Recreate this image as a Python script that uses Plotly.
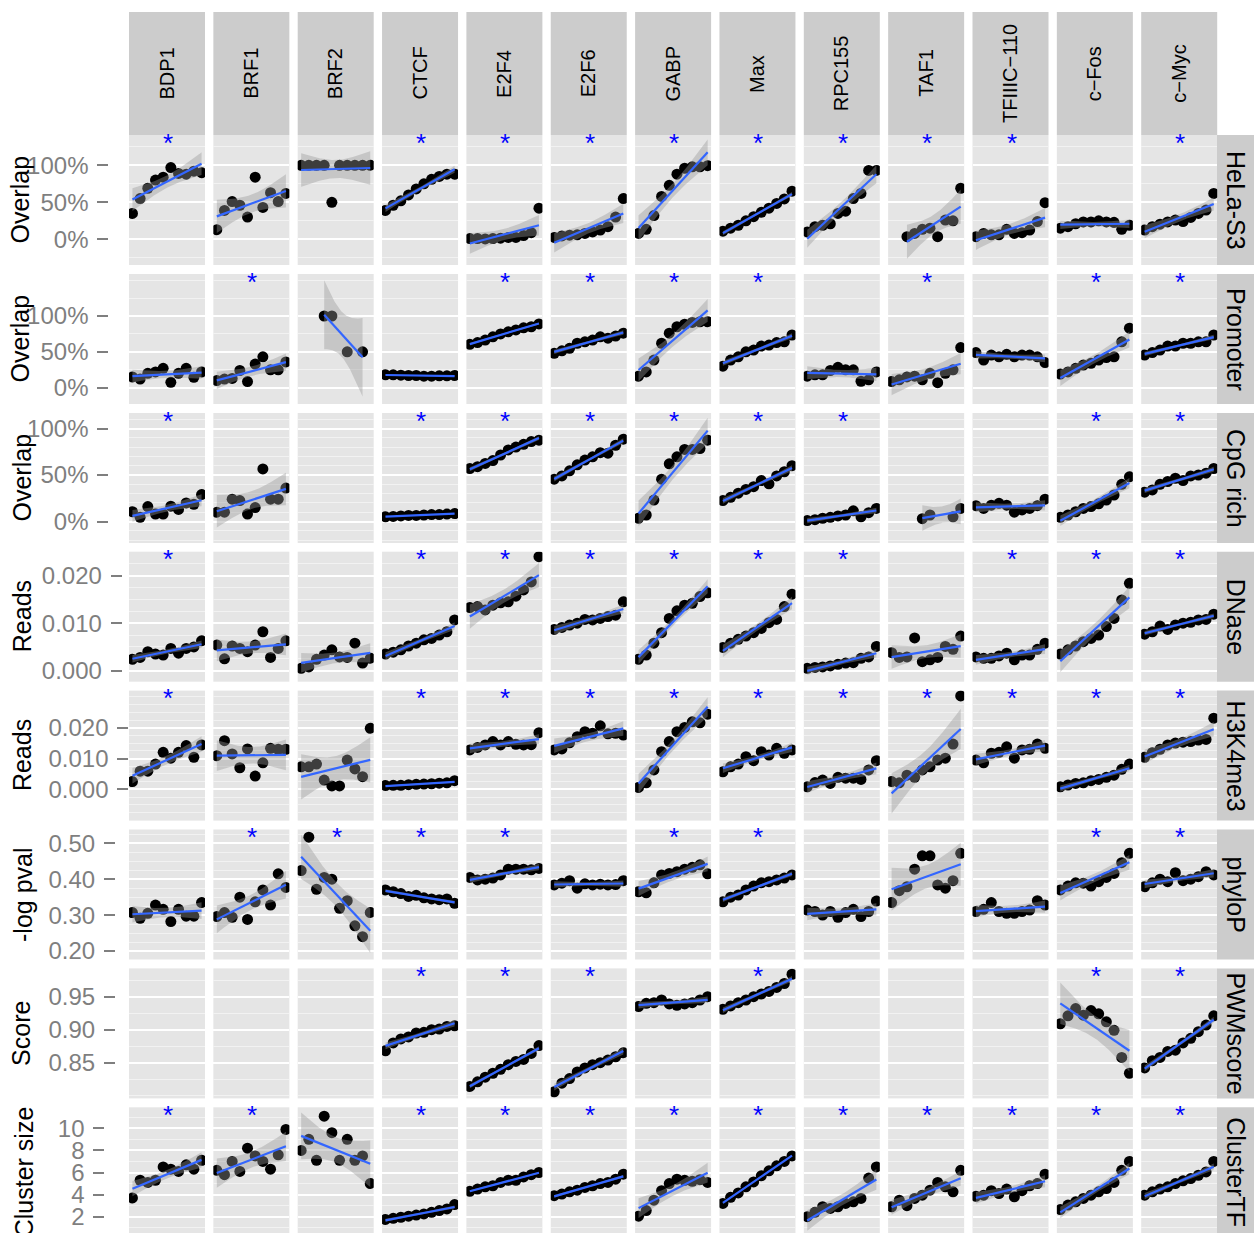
import numpy as np
import plotly.graph_objects as go

W, H = 1254, 1233
FONT = "Liberation Sans, Arial, Helvetica, sans-serif"

# ---------------- data ----------------
tf_names = ["BDP1", "BRF1", "BRF2", "CTCF", "E2F4", "E2F6", "GABP", "Max",
            "RPC155", "TAF1", "TFIIIC\u2212110", "c\u2212Fos", "c\u2212Myc"]
row_names = ["HeLa-S3", "Promoter", "CpG rich", "DNase", "H3K4me3", "phyloP", "PWMscore", "ClusterTF"]
y_titles = ["Overlap", "Overlap", "Overlap", "Reads", "Reads", "-log pval", "Score", "Cluster size"]
N = None
E = [N] * 10

hela_s3 = [
    [35, 55, 69, 80, 84, 97, 89, 88, 92, 90],
    [13, 39, 51, 46, 30, 84, 43, 63, 51, 62],
    [100, 100, 100, 100, 50, 100, 100, 100, 100, 100],
    [39, 46, 52, 60, 68, 75, 81, 85, 88, 88],
    [1, 1, 0.5, 1, 1.5, 2.5, 2.5, 5, 9, 42],
    [2.5, 4.5, 5.5, 6, 8, 10, 12.5, 17, 30, 55],
    [8, 13.5, 32, 58, 73, 88, 96, 98, 98, 99.5],
    [11, 15, 19, 25, 30.5, 36.5, 42, 48.5, 54.5, 65],
    [10, 17, 19, 21, 35, 38, 55, 62, 93, 93],
    [N, N, 3.5, 8, 13.5, 15, 3.5, 26, 25, 69],
    [3.5, 8, 6, 6, 13.5, 8, 9, 12.5, 24, 49.5],
    [15, 17, 21, 23.5, 23.5, 25, 23.5, 23, 13.5, 19],
    [12.5, 17, 20.5, 23.5, 26, 24, 29.5, 35, 39.5, 62],
]
promoter = [
    [15, 12, 20, 22, 27, 7.5, 20, 27, 14.5, 22],
    [10, 12, 13, 24, 8.5, 33, 43, 25, 25, 36],
    [N, N, N, 100, 100, N, 50, N, 50, N],
    [18, 18, 17.5, 17, 17, 16, 16, 16.5, 16.5, 17],
    [60.5, 63, 66.5, 71, 75, 78, 80.5, 83.5, 85, 89],
    [48, 51.5, 55, 62, 64, 66.5, 71, 69, 72, 76],
    [16, 22, 38.5, 62, 76, 85, 88.5, 91, 92, 92],
    [30, 38.5, 43, 50, 52.5, 58, 59.5, 63, 64, 73.5],
    [16, 18, 18, 24, 28.5, 25, 25, 9, 11, 22],
    [8.5, 11, 15, 16, 11, 20, 7, 20, 25, 56],
    [49, 38.5, 45.5, 43, 46.5, 43, 45.5, 45.5, 43, 35],
    [19, 22, 27, 31.5, 34, 38.5, 42, 43, 64, 83],
    [45.5, 49, 52.5, 58, 58, 62, 62, 64, 64, 73.5],
]
cpg_rich = [
    [10.5, 4.5, 16, 8, 8, 16.5, 13, 20, 18.5, 29],
    [10, 10, 24, 22.5, 8, 15, 56.5, 24, 24, 36],
    E,
    [5, 5.5, 6, 6.5, 6.5, 7, 7.5, 7.5, 8, 8.5],
    [57, 59, 62.5, 65.5, 71.5, 77, 80, 83, 86, 87.5],
    [45.5, 49, 54.5, 61, 66, 69.5, 74, 73.5, 82, 88.5],
    [3.5, 7, 23, 45.5, 62, 69.5, 77.5, 77.5, 78.5, 87.5],
    [22.5, 26, 30.5, 34.5, 37.5, 44, 40.5, 49, 53.5, 60],
    [1, 2, 3.5, 4.5, 6, 7, 11.5, 5, 9.5, 14],
    [N, N, N, N, 3, 7, N, N, 5, 14],
    [17, 14, 17.5, 19.5, 17.5, 10, 12.5, 14, 17, 24],
    [4.5, 7, 10.5, 14, 16, 19, 23, 28.5, 40, 48],
    [31.5, 34, 40, 43, 46.5, 44, 49, 50, 52, 57],
]
dnase = [
    [0.0024, 0.0028, 0.0040, 0.0035, 0.0033, 0.0047, 0.0037, 0.0047, 0.0050, 0.0063],
    [0.0054, 0.0025, 0.0052, 0.0047, 0.0040, 0.0054, 0.0082, 0.0028, 0.0047, 0.0063],
    [0.0005, 0.0008, 0.0024, 0.0033, 0.0044, 0.0029, 0.0028, 0.0058, 0.0016, 0.0026],
    [0.0035, 0.0039, 0.0044, 0.0052, 0.0058, 0.0065, 0.0068, 0.0075, 0.0082, 0.0107],
    [0.0133, 0.0135, 0.0128, 0.0138, 0.0143, 0.0145, 0.0157, 0.0170, 0.0187, 0.0240],
    [0.0087, 0.0091, 0.0096, 0.0100, 0.0108, 0.0107, 0.0110, 0.0114, 0.0117, 0.0145],
    [0.0024, 0.0033, 0.0058, 0.0080, 0.0110, 0.0126, 0.0138, 0.0142, 0.0156, 0.0164],
    [0.0049, 0.0058, 0.0066, 0.0073, 0.0080, 0.0089, 0.0101, 0.0108, 0.0135, 0.0161],
    [0.0005, 0.0007, 0.0008, 0.0010, 0.00135, 0.0016, 0.0017, 0.0026, 0.0029, 0.0051],
    [0.0038, 0.0028, 0.0029, 0.0069, 0.0019, 0.0023, 0.0028, 0.0051, 0.0045, 0.0073],
    [0.0029, 0.0026, 0.0026, 0.0031, 0.0037, 0.0023, 0.0033, 0.0033, 0.0045, 0.0058],
    [0.0035, 0.0044, 0.0052, 0.0061, 0.0068, 0.0075, 0.0093, 0.0110, 0.0149, 0.0184],
    [0.0077, 0.0082, 0.0094, 0.0087, 0.0096, 0.0100, 0.0102, 0.0107, 0.0108, 0.0119],
]
h3k4me3 = [
    [0.0025, 0.0059, 0.0059, 0.0082, 0.0120, 0.0101, 0.0120, 0.0142, 0.0104, 0.0144],
    [0.0109, 0.0158, 0.0115, 0.0070, 0.0131, 0.0043, 0.0086, 0.0133, 0.0130, 0.0130],
    [0.0073, 0.0073, 0.0082, 0.0030, 0.0011, 0.0011, 0.0095, 0.0066, 0.0041, 0.0198],
    [0.0012, 0.0013, 0.0013, 0.0015, 0.0016, 0.0017, 0.0018, 0.0020, 0.0021, 0.0028],
    [0.0128, 0.0136, 0.0144, 0.0155, 0.0144, 0.0155, 0.0146, 0.0144, 0.0145, 0.0184],
    [0.0128, 0.0131, 0.0151, 0.0171, 0.0187, 0.0182, 0.0206, 0.0180, 0.0182, 0.0176],
    [0.0006, 0.0021, 0.0063, 0.0122, 0.0155, 0.0187, 0.0201, 0.0219, 0.0216, 0.0244],
    [0.0057, 0.0073, 0.0082, 0.0106, 0.0093, 0.0122, 0.0111, 0.0133, 0.0117, 0.0128],
    [0.0008, 0.0022, 0.0030, 0.0019, 0.0039, 0.0036, 0.0036, 0.0032, 0.0063, 0.0093],
    [0.0025, 0.0021, 0.0046, 0.0039, 0.0063, 0.0073, 0.0095, 0.0101, 0.0147, 0.0303],
    [0.0095, 0.0086, 0.0117, 0.0120, 0.0138, 0.0101, 0.0128, 0.0130, 0.0147, 0.0133],
    [0.0008, 0.0014, 0.0019, 0.0021, 0.0028, 0.0032, 0.0039, 0.0046, 0.0065, 0.0082],
    [0.0104, 0.0119, 0.0130, 0.0144, 0.0150, 0.0153, 0.0155, 0.0160, 0.0162, 0.0231],
]
phylop = [
    [0.307, 0.291, 0.305, 0.328, 0.316, 0.282, 0.316, 0.297, 0.297, 0.335],
    [0.296, 0.307, 0.294, 0.350, 0.288, 0.337, 0.370, 0.328, 0.415, 0.377],
    [0.424, 0.517, 0.372, 0.405, 0.400, 0.319, 0.340, 0.270, 0.240, 0.307],
    [0.370, 0.365, 0.360, 0.352, 0.355, 0.348, 0.345, 0.343, 0.345, 0.333],
    [0.405, 0.398, 0.400, 0.403, 0.412, 0.428, 0.428, 0.428, 0.426, 0.430],
    [0.384, 0.389, 0.396, 0.375, 0.387, 0.384, 0.386, 0.384, 0.385, 0.396],
    [0.365, 0.362, 0.390, 0.412, 0.416, 0.421, 0.428, 0.433, 0.440, 0.415],
    [0.337, 0.350, 0.356, 0.370, 0.381, 0.390, 0.393, 0.398, 0.403, 0.412],
    [0.314, 0.310, 0.300, 0.310, 0.294, 0.307, 0.316, 0.296, 0.310, 0.339],
    [0.335, 0.368, 0.379, 0.428, 0.465, 0.465, 0.384, 0.375, 0.396, 0.472],
    [0.310, 0.316, 0.335, 0.310, 0.305, 0.305, 0.310, 0.314, 0.340, 0.328],
    [0.370, 0.381, 0.390, 0.389, 0.381, 0.393, 0.405, 0.416, 0.446, 0.472],
    [0.379, 0.390, 0.400, 0.393, 0.418, 0.396, 0.400, 0.407, 0.421, 0.412],
]
pwm_score = [
    E, E, E,
    [0.868, 0.880, 0.886, 0.889, 0.895, 0.896, 0.900, 0.901, 0.905, 0.906],
    [0.814, 0.821, 0.828, 0.834, 0.840, 0.847, 0.852, 0.855, 0.864, 0.876],
    [0.806, 0.819, 0.826, 0.836, 0.842, 0.847, 0.850, 0.854, 0.859, 0.865],
    [0.935, 0.940, 0.941, 0.945, 0.939, 0.937, 0.939, 0.941, 0.945, 0.950],
    [0.931, 0.936, 0.941, 0.945, 0.950, 0.954, 0.958, 0.964, 0.970, 0.984],
    E, E, E,
    [0.909, 0.921, 0.932, 0.922, 0.929, 0.924, 0.912, 0.899, 0.858, 0.834],
    [0.842, 0.853, 0.858, 0.867, 0.869, 0.880, 0.887, 0.897, 0.907, 0.921],
]
cluster_tf = [
    [3.7, 5.3, 5.1, 5.3, 6.5, 6.3, 6.1, 6.7, 6.3, 7.1],
    [6.2, 5.8, 7.0, 6.1, 8.2, 7.5, 7.0, 6.3, 7.6, 9.9],
    [8.0, 9.0, 7.1, 11.1, 9.6, 7.1, 9.0, 7.1, 7.5, 5.0],
    [1.75, 1.85, 1.95, 2.05, 2.15, 2.25, 2.4, 2.55, 2.7, 3.1],
    [4.3, 4.5, 4.7, 4.8, 5.1, 5.3, 5.3, 5.6, 5.8, 6.0],
    [3.9, 4.05, 4.25, 4.4, 4.65, 4.8, 5.0, 5.1, 5.4, 5.85],
    [2.05, 2.55, 3.5, 4.35, 5.0, 5.4, 5.3, 5.2, 5.35, 5.1],
    [3.2, 3.75, 4.15, 4.7, 5.15, 5.7, 6.15, 6.6, 7.0, 7.5],
    [2.0, 2.4, 2.9, 2.75, 2.9, 3.2, 3.35, 3.65, 5.5, 6.5],
    [2.9, 3.5, 3.0, 3.65, 3.95, 4.4, 5.1, 4.7, 4.25, 6.2],
    [3.85, 3.95, 4.35, 4.1, 4.5, 3.8, 4.35, 4.8, 5.0, 5.85],
    [2.65, 3.05, 3.35, 3.65, 3.95, 4.25, 4.55, 5.1, 6.2, 7.0],
    [3.95, 4.25, 4.5, 4.7, 5.0, 5.25, 5.45, 5.75, 6.05, 7.0],
]
all_rows = [hela_s3, promoter, cpg_rich, dnase, h3k4me3, phylop, pwm_score, cluster_tf]

# significance stars (1 = "*")
sig_hela_s3 = [1, 0, 0, 1, 1, 1, 1, 1, 1, 1, 1, 0, 1]
sig_promoter = [0, 1, 0, 0, 1, 1, 1, 1, 0, 1, 0, 1, 1]
sig_cpg_rich = [1, 0, 0, 1, 1, 1, 1, 1, 1, 0, 0, 1, 1]
sig_dnase = [1, 0, 0, 1, 1, 1, 1, 1, 1, 0, 1, 1, 1]
sig_h3k4me3 = [1, 0, 0, 1, 1, 1, 1, 1, 1, 1, 1, 1, 1]
sig_phylop = [0, 1, 1, 1, 1, 0, 1, 1, 0, 0, 0, 1, 1]
sig_pwm_score = [0, 0, 0, 1, 1, 1, 0, 1, 0, 0, 0, 1, 1]
sig_cluster_tf = [1, 1, 0, 1, 1, 1, 1, 1, 1, 1, 1, 1, 1]
all_sig = [sig_hela_s3, sig_promoter, sig_cpg_rich, sig_dnase, sig_h3k4me3,
           sig_phylop, sig_pwm_score, sig_cluster_tf]

x_index = list(range(1, 11))

tick_vals = [[0, 50, 100], [0, 50, 100], [0, 50, 100],
             [0, 0.01, 0.02], [0, 0.01, 0.02],
             [0.2, 0.3, 0.4, 0.5], [0.85, 0.90, 0.95], [2, 4, 6, 8, 10]]
tick_text = [["0%", "50%", "100%"], ["0%", "50%", "100%"], ["0%", "50%", "100%"],
             ["0.000", "0.010", "0.020"], ["0.000", "0.010", "0.020"],
             ["0.20", "0.30", "0.40", "0.50"], ["0.85", "0.90", "0.95"],
             ["2", "4", "6", "8", "10"]]

# ---------------- layout geometry / axis calibration ----------------
col_left = [129 + i * 84.35 for i in range(13)]
panel_w = 76
row_top = [135, 274, 413, 551.7, 690.6, 829.5, 968.4, 1107.3]
panel_h = 130
# two (value, pixel) reference ticks per row
calib = [((0, 239.3), (100, 165.3)), ((0, 387.7), (100, 316.0)), ((0, 521.5), (100, 428.5)),
         ((0, 670.7), (0.02, 575.7)), ((0, 789.3), (0.02, 727.7)),
         ((0.2, 951.0), (0.5, 843.3)), ((0.85, 1062.7), (0.95, 996.7)),
         ((2, 1216.7), (10, 1128.3))]
minor_step = [25, 25, 10, 0.0025, 0.0025, 0.025, 0.025, 1]
axis_pos = [108.3, 108.3, 108.3, 121.7, 128.3, 115.0, 115.0, 104.3]
title_x = [19.5, 19.5, 21.5, 21.5, 21.5, 22.5, 21.5, 24.0]

T975 = {1: 12.706, 2: 4.303, 3: 3.182, 4: 2.776, 5: 2.571, 6: 2.447, 7: 2.365, 8: 2.306}


def lm_band(xs, ys):
    xs = np.asarray(xs, float)
    ys = np.asarray(ys, float)
    n = len(xs)
    xb, yb = xs.mean(), ys.mean()
    sxx = ((xs - xb) ** 2).sum()
    b = ((xs - xb) * (ys - yb)).sum() / sxx
    a = yb - b * xb
    res = ys - (a + b * xs)
    s = np.sqrt((res ** 2).sum() / (n - 2))
    xg = np.linspace(xs.min(), xs.max(), 80)
    yg = a + b * xg
    se = s * np.sqrt(1.0 / n + (xg - xb) ** 2 / sxx)
    t = T975[n - 2]
    return xg, yg, yg - t * se, yg + t * se


def row_range(r):
    (v0, p0), (v1, p1) = calib[r]
    per_px = (v1 - v0) / (p0 - p1)
    top = row_top[r]
    bot = min(top + panel_h, H)
    return v0 + (p0 - bot) * per_px, v0 + (p0 - top) * per_px


fig = go.Figure()
layout = {}
annotations = []
shapes = []

for r in range(8):
    lo, hi = row_range(r)
    step = minor_step[r]
    mins = []
    k0 = int(np.ceil(lo / step))
    k1 = int(np.floor(hi / step))
    for k in range(k0, k1 + 1):
        v = round(k * step, 10)
        if all(abs(v - m) > step * 1e-3 for m in tick_vals[r]):
            mins.append(v)
    y0p = row_top[r]
    y1p = min(y0p + panel_h, H)
    for c in range(13):
        idx = r * 13 + c + 1
        xn = "x" if idx == 1 else f"x{idx}"
        yn = "y" if idx == 1 else f"y{idx}"
        xk = "xaxis" if idx == 1 else f"xaxis{idx}"
        yk = "yaxis" if idx == 1 else f"yaxis{idx}"
        x0p = col_left[c]
        x1p = x0p + panel_w
        layout[xk] = dict(domain=[x0p / W, x1p / W], range=[0.55, 10.45], anchor=yn,
                          showgrid=False, zeroline=False, showticklabels=False,
                          ticks="", showline=False, fixedrange=True, automargin=False)
        yd = dict(domain=[(H - y1p) / H, (H - y0p) / H], range=[lo, hi],
                  showgrid=True, gridcolor="white", gridwidth=2, zeroline=False,
                  showline=False, tickmode="array", tickvals=tick_vals[r],
                  ticktext=tick_text[r], automargin=False, fixedrange=True,
                  minor=dict(tickmode="array", tickvals=mins, showgrid=True,
                             gridcolor="#F2F2F2", gridwidth=1, ticks=""))
        if c == 0:
            yd.update(anchor="free", position=axis_pos[r] / W, ticks="outside",
                      ticklen=11, tickwidth=2, tickcolor="#7F7F7F", showticklabels=True,
                      tickfont=dict(size=24, color="#7F7F7F", family=FONT),
                      ticklabelstandoff=4)
        else:
            yd.update(anchor=xn, showticklabels=False, ticks="")
        layout[yk] = yd

        vals = all_rows[r][c]
        xs = [x for x, v in zip(x_index, vals) if v is not None]
        ys = [v for v in vals if v is not None]
        if xs:
            fig.add_trace(go.Scatter(x=xs, y=ys, mode="markers", xaxis=xn, yaxis=yn,
                                     marker=dict(size=11, color="black"),
                                     hoverinfo="skip", showlegend=False))
            xg, yg, lw, up = lm_band(xs, ys)
            fig.add_trace(go.Scatter(x=list(xg) + list(xg[::-1]), y=list(up) + list(lw[::-1]),
                                     mode="lines", fill="toself",
                                     fillcolor="rgba(153,153,153,0.4)",
                                     line=dict(width=0, color="rgba(0,0,0,0)"),
                                     xaxis=xn, yaxis=yn, hoverinfo="skip", showlegend=False))
            fig.add_trace(go.Scatter(x=xg, y=yg, mode="lines", xaxis=xn, yaxis=yn,
                                     line=dict(color="#3366FF", width=2.2),
                                     hoverinfo="skip", showlegend=False))
        else:
            fig.add_trace(go.Scatter(x=[None], y=[None], mode="markers", xaxis=xn, yaxis=yn,
                                     hoverinfo="skip", showlegend=False))
        if all_sig[r][c]:
            annotations.append(dict(x=(x0p + panel_w / 2 + 1) / W, y=(H - (y0p + 7.5)) / H,
                                    xref="paper", yref="paper", text="*", showarrow=False,
                                    xanchor="center", yanchor="middle",
                                    font=dict(size=26, color="#0000FF", family=FONT)))

    # row strip
    shapes.append(dict(type="rect", xref="paper", yref="paper", x0=1217 / W, x1=1.0,
                       y0=(H - y1p) / H, y1=(H - y0p) / H, fillcolor="#CCCCCC",
                       line=dict(width=0), layer="below"))
    annotations.append(dict(x=1236 / W, y=(H - (y0p + panel_h / 2)) / H, xref="paper", yref="paper",
                            text=row_names[r], textangle=90, showarrow=False,
                            xanchor="center", yanchor="middle",
                            font=dict(size=25, color="black", family=FONT)))
    # y title
    annotations.append(dict(x=title_x[r] / W, y=(H - (y0p + panel_h / 2)) / H, xref="paper",
                            yref="paper", text=y_titles[r], textangle=-90, showarrow=False,
                            xanchor="center", yanchor="middle",
                            font=dict(size=25, color="black", family=FONT)))

for c in range(13):
    x0p = col_left[c]
    shapes.append(dict(type="rect", xref="paper", yref="paper", x0=x0p / W, x1=(x0p + panel_w) / W,
                       y0=(H - 135) / H, y1=(H - 12) / H, fillcolor="#CCCCCC",
                       line=dict(width=0), layer="below"))
    annotations.append(dict(x=(x0p + panel_w / 2) / W, y=(H - 73.5) / H, xref="paper", yref="paper",
                            text=tf_names[c], textangle=-90, showarrow=False,
                            xanchor="center", yanchor="middle",
                            font=dict(size=20, color="black", family=FONT)))

fig.update_layout(**layout)
fig.update_layout(width=W, height=H, margin=dict(l=0, r=0, t=0, b=0, pad=0),
                  template="none", paper_bgcolor="white", plot_bgcolor="#E5E5E5",
                  showlegend=False, annotations=annotations, shapes=shapes,
                  font=dict(family=FONT))
fig.write_html("out.html", config={"displayModeBar": False, "staticPlot": True},
               post_script="document.body.style.margin='0px';document.body.style.padding='0px';"
                           "document.body.style.overflow='hidden';")
